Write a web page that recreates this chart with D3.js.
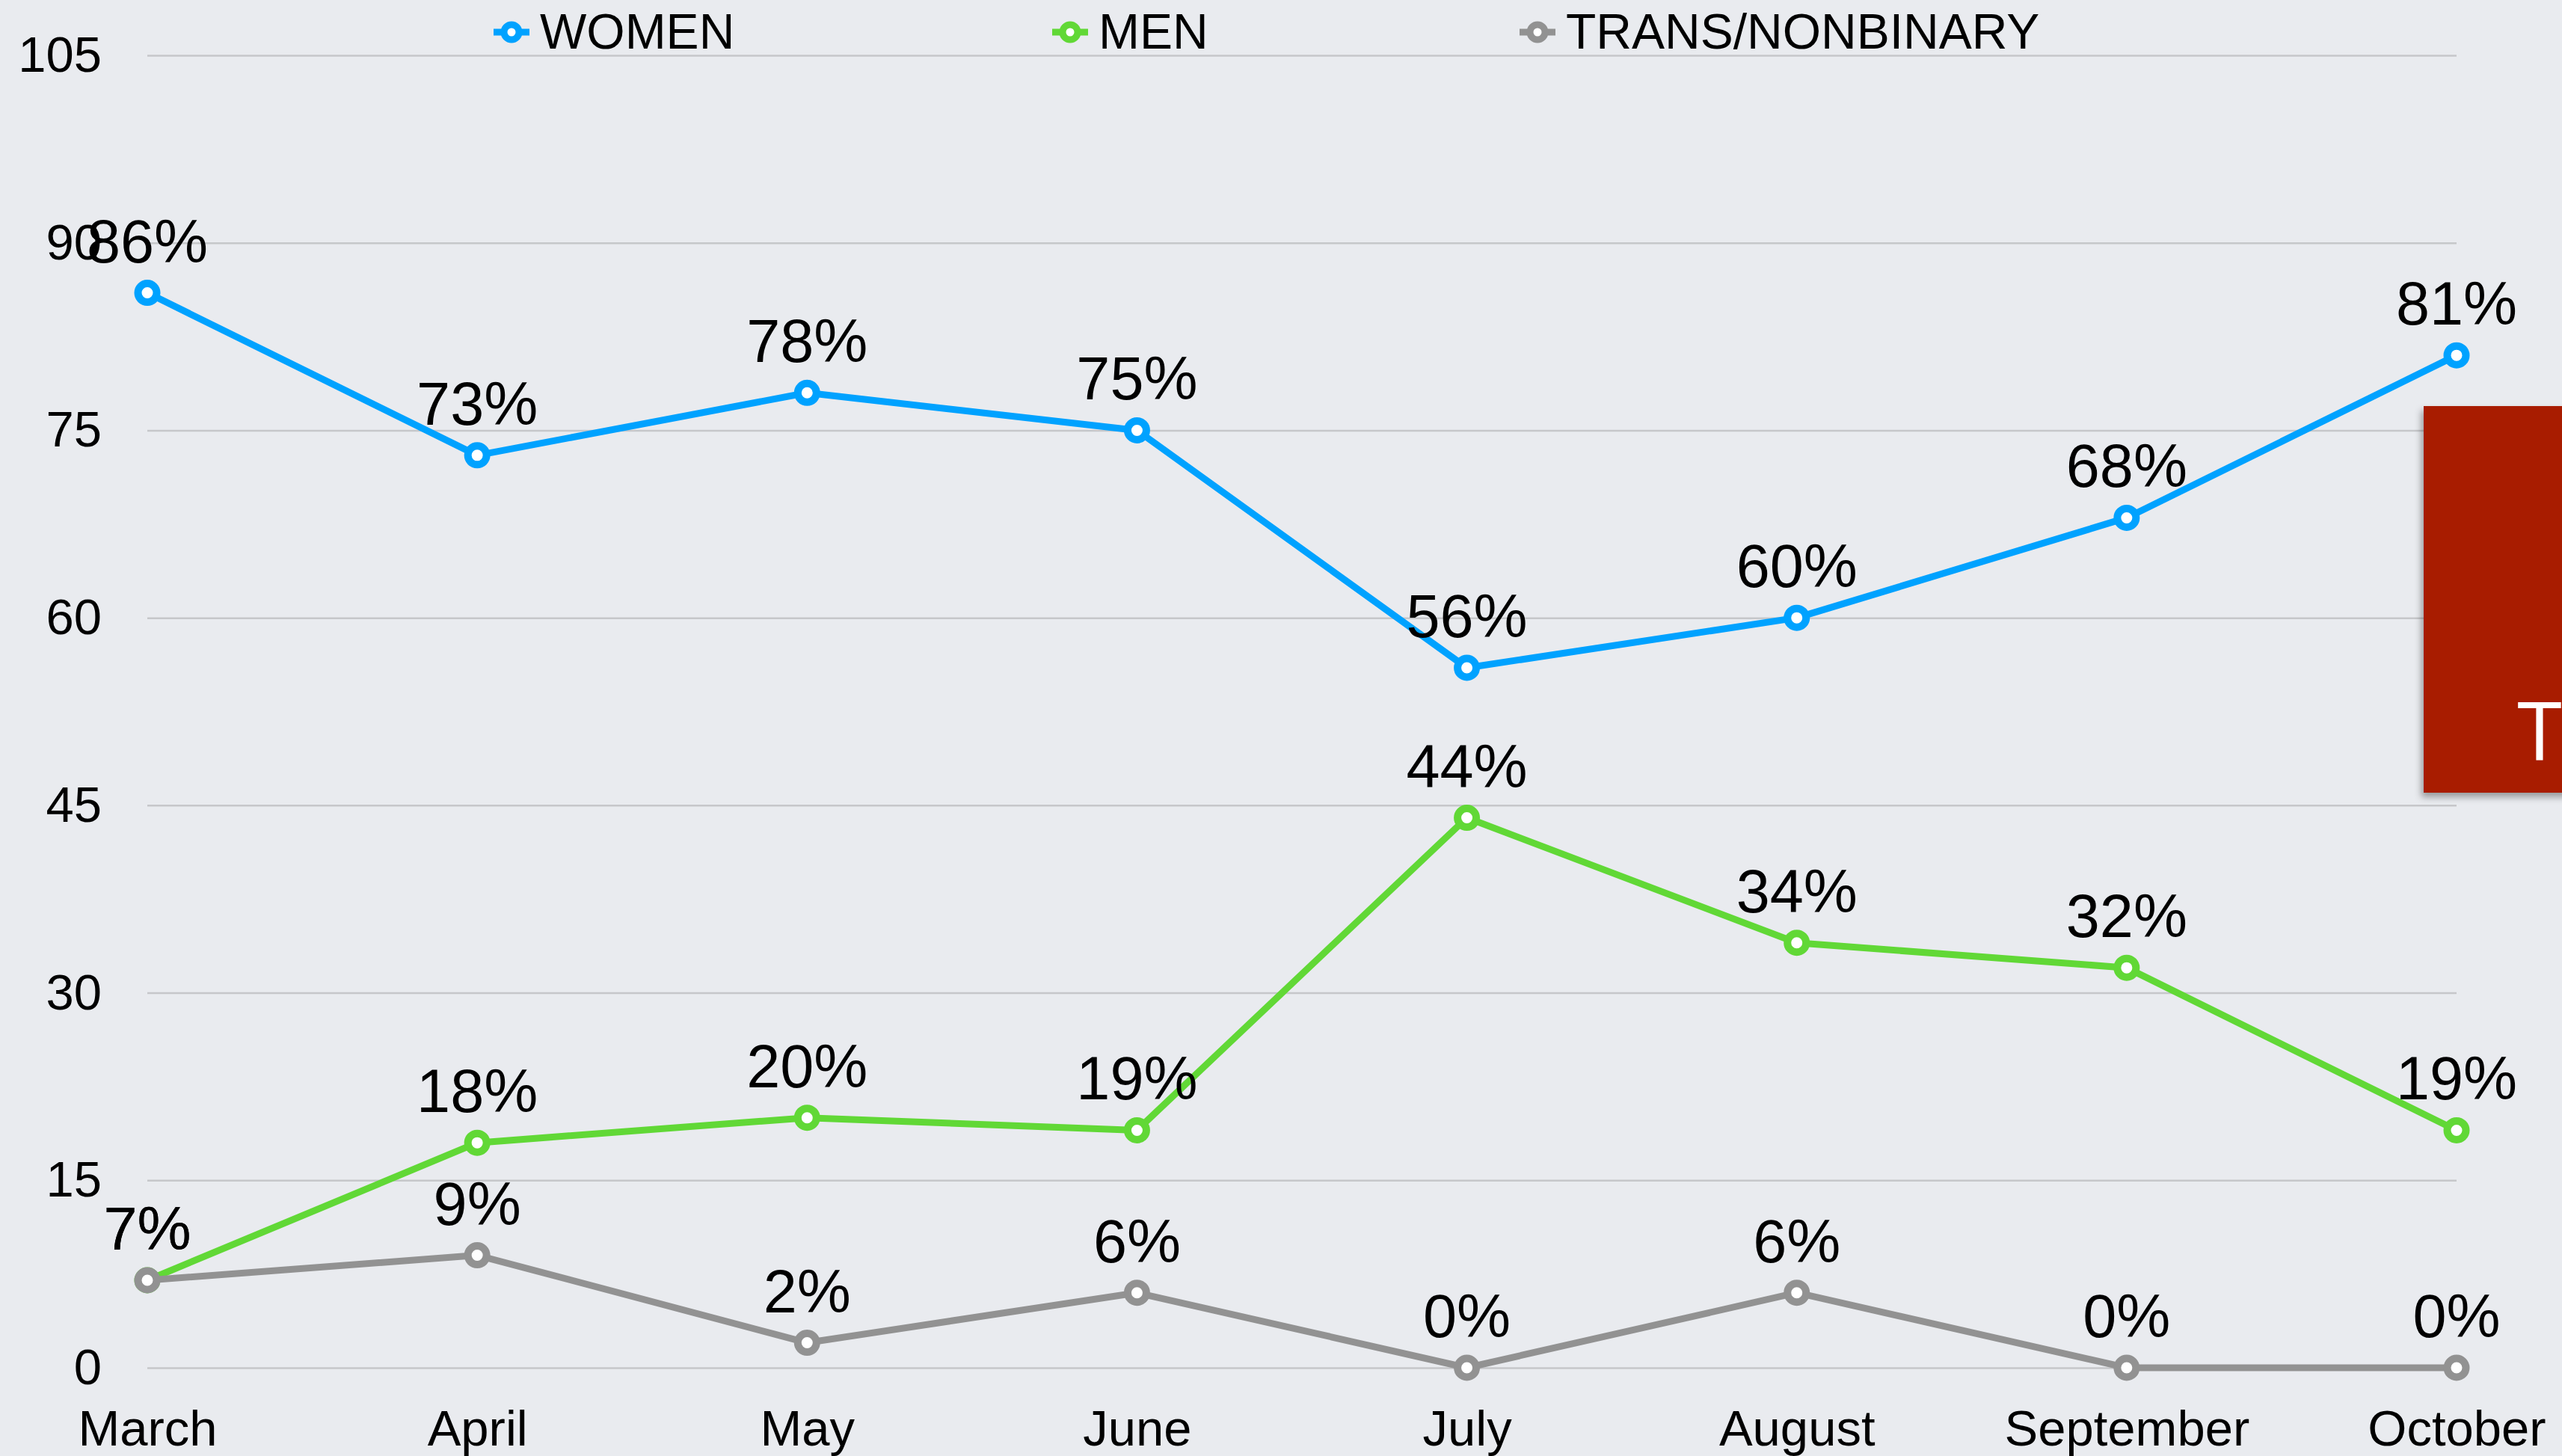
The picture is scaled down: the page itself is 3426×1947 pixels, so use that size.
<!DOCTYPE html>
<html>
<head>
<meta charset="utf-8">
<script src="https://cdn.jsdelivr.net/npm/d3@7"></script>
<style>
  html, body { margin: 0; padding: 0; background: #e9ebef; }
  svg { display: block; }
  text { font-family: "Liberation Sans", Arial, Helvetica, sans-serif; }
</style>
</head>
<body>
<svg id="chart"></svg>
<script>
"use strict";
var months = ["March", "April", "May", "June", "July", "August", "September", "October"];
var women = [86, 73, 78, 75, 56, 60, 68, 81];
var men = [7, 18, 20, 19, 44, 34, 32, 19];
var trans = [7, 9, 2, 6, 0, 6, 0, 0];
var yTicks = [0, 15, 30, 45, 60, 75, 90, 105];
var seriesNames = ["WOMEN", "MEN", "TRANS/NONBINARY"];
var seriesColors = ["#00a2ff", "#61d836", "#929292"];

var width = 3426, height = 1947;
var svg = d3.select("#chart").attr("width", width).attr("height", height);

var defs = svg.append("defs");
var shadow = defs.append("filter").attr("id", "shadow")
  .attr("x", "-10%").attr("y", "-10%").attr("width", "130%").attr("height", "130%");
shadow.append("feDropShadow").attr("dx", -3).attr("dy", 6).attr("stdDeviation", 5)
  .attr("flood-color", "#000").attr("flood-opacity", 0.35);

svg.append("rect").attr("width", width).attr("height", height).attr("fill", "#e9ebef");

var x = d3.scalePoint().domain(months).range([197, 3285]);
var y = d3.scaleLinear().domain([0, 105]).range([1829, 74]);

// y axis + gridlines
var yAxis = svg.append("g")
  .attr("transform", "translate(197,0)")
  .call(d3.axisLeft(y).tickValues(yTicks).tickSize(-(3285 - 197)).tickPadding(61));
yAxis.select(".domain").remove();
yAxis.selectAll("line").attr("stroke", "#c6c7ca").attr("stroke-width", 2.5);
yAxis.selectAll("text").attr("fill", "#000").style("font-size", "67px")
  .style("font-family", "'Liberation Sans', Arial, sans-serif");

// x axis labels
var xAxis = svg.append("g")
  .attr("transform", "translate(0,1829)")
  .call(d3.axisBottom(x).tickSize(0));
xAxis.select(".domain").remove();
xAxis.selectAll("text").attr("y", 104).attr("dy", 0).attr("fill", "#000")
  .style("font-size", "67px").style("font-family", "'Liberation Sans', Arial, sans-serif");

var series = [women, men, trans];
var line = d3.line().x(function (d, i) { return x(months[i]); }).y(function (d) { return y(d); });

series.forEach(function (vals, s) {
  var g = svg.append("g");
  g.append("path").datum(vals).attr("d", line)
    .attr("fill", "none").attr("stroke", seriesColors[s]).attr("stroke-width", 9)
    .attr("stroke-linejoin", "round");
  g.selectAll("circle").data(vals).enter().append("circle")
    .attr("cx", function (d, i) { return x(months[i]); })
    .attr("cy", function (d) { return y(d); })
    .attr("r", 12.5).attr("fill", "#fff")
    .attr("stroke", seriesColors[s]).attr("stroke-width", 10);
});

// value labels on top
series.forEach(function (vals) {
  svg.append("g").selectAll("text").data(vals).enter().append("text")
    .attr("x", function (d, i) { return x(months[i]); })
    .attr("y", function (d) { return y(d) - 41; })
    .attr("text-anchor", "middle")
    .style("font-size", "81px")
    .attr("fill", "#000")
    .text(function (d) { return d + "%"; });
});

// legend
var legendX = [684, 1431, 2056];
var legend = svg.append("g");
seriesNames.forEach(function (name, s) {
  var lg = legend.append("g").attr("transform", "translate(" + legendX[s] + ",43)");
  lg.append("line").attr("x1", -24).attr("x2", 24)
    .attr("stroke", seriesColors[s]).attr("stroke-width", 9);
  lg.append("circle").attr("r", 10).attr("fill", "#fff")
    .attr("stroke", seriesColors[s]).attr("stroke-width", 9);
  lg.append("text").attr("x", 38).attr("y", 22).style("font-size", "66px")
    .attr("fill", "#000").text(name);
});

// red panel at right edge
var panel = svg.append("g");
panel.append("rect").attr("x", 3241).attr("y", 543).attr("width", 200).attr("height", 517)
  .attr("fill", "#a81a00").attr("filter", "url(#shadow)");
panel.append("text").attr("x", 3396).attr("y", 1016).attr("text-anchor", "middle")
  .style("font-size", "108px").style("font-family", "'Open Sans', 'Noto Sans', sans-serif")
  .attr("fill", "#fff").text("T");
</script>
</body>
</html>
